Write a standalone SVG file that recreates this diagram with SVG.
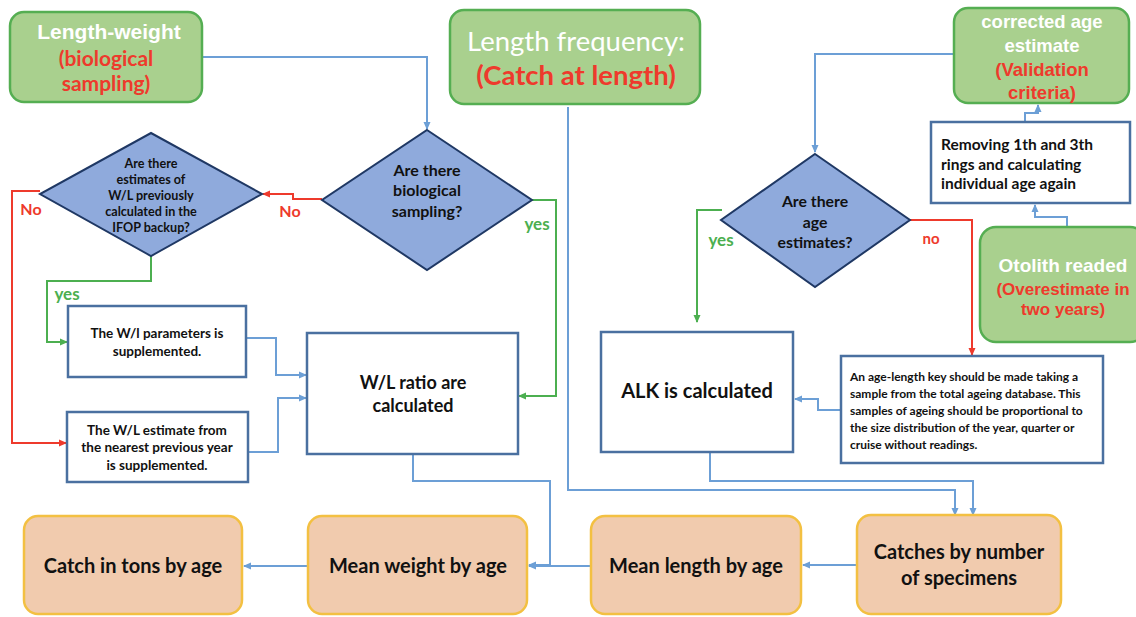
<svg xmlns="http://www.w3.org/2000/svg" width="1136" height="617" viewBox="0 0 1136 617">
<style>
.green{fill:#A9D08E;stroke:#55AE52;stroke-width:2.5}
.peach{fill:#F1CBAE;stroke:#F3C042;stroke-width:2.5}
.box{fill:#FFFFFF;stroke:#4A70A0;stroke-width:2.5}
.dia{fill:#8FAADC;stroke:#1F3864;stroke-width:2}
.a{font-family:"Liberation Sans",Arial,sans-serif;font-weight:bold}
.c{font-family:Lato,"Open Sans",sans-serif;font-weight:bold}
.w{fill:#FFFFFF}
.r{fill:#EE3A2C}
.k{fill:#111111}
.g{fill:#4CAF50}
.bl{fill:none;stroke:#6C9FD6;stroke-width:2}
.gl{fill:none;stroke:#4CAF50;stroke-width:2}
.rl{fill:none;stroke:#EE3A2C;stroke-width:2}
</style>
<defs>
<marker id="ab" markerWidth="8" markerHeight="8" refX="7" refY="4" orient="auto" markerUnits="userSpaceOnUse"><path d="M0,0.5 L8,4 L0,7.5 Z" fill="#6C9FD6"/></marker>
<marker id="ag" markerWidth="8" markerHeight="8" refX="7" refY="4" orient="auto" markerUnits="userSpaceOnUse"><path d="M0,0.5 L8,4 L0,7.5 Z" fill="#4CAF50"/></marker>
<marker id="ar" markerWidth="8" markerHeight="8" refX="7" refY="4" orient="auto" markerUnits="userSpaceOnUse"><path d="M0,0.5 L8,4 L0,7.5 Z" fill="#EE3A2C"/></marker>
</defs>
<rect width="1136" height="617" fill="#FFFFFF"/>

<g id="connectors">
<path class="bl" d="M202,57 H427 V129" marker-end="url(#ab)"/>
<path class="rl" d="M322,199 H293 V194 H263" marker-end="url(#ar)"/>
<path class="gl" d="M532,200 H556 V396 H519" marker-end="url(#ag)"/>
<path class="rl" d="M40,191 H12 V443 H66" marker-end="url(#ar)"/>
<path class="gl" d="M151,256 V281 H47 V342 H67" marker-end="url(#ag)"/>
<path class="bl" d="M246,338 H276 V375 H306" marker-end="url(#ab)"/>
<path class="bl" d="M248,452 H278 V398 H306" marker-end="url(#ab)"/>
<path class="bl" d="M413,454 V481 H550 V565 H529" marker-end="url(#ab)"/>
<path class="bl" d="M568,107 V490 H955 V515" marker-end="url(#ab)"/>
<path class="bl" d="M710,452 V481 H973 V515" marker-end="url(#ab)"/>
<path class="bl" d="M840,410 H818 V399 H795" marker-end="url(#ab)"/>
<path class="gl" d="M722,210 H697 V322" marker-end="url(#ag)"/>
<path class="rl" d="M910,220 H972 V355" marker-end="url(#ar)"/>
<path class="bl" d="M953,54 H815 V152" marker-end="url(#ab)"/>
<path class="bl" d="M1025,122 V113 H1038 V105" marker-end="url(#ab)"/>
<path class="bl" d="M1067,227 V217 H1035 V205" marker-end="url(#ab)"/>
<path class="bl" d="M591,566 H529" marker-end="url(#ab)"/>
<path class="bl" d="M857,565 H803" marker-end="url(#ab)"/>
<path class="bl" d="M308,566 H244" marker-end="url(#ab)"/>
<text class="c r" x="290" y="217" font-size="16" text-anchor="middle">No</text>
<text class="c g" x="537" y="230" font-size="17" text-anchor="middle">yes</text>
<text class="c r" x="31" y="215" font-size="16" text-anchor="middle">No</text>
<text class="c g" x="67" y="300" font-size="17" text-anchor="middle">yes</text>
<text class="c g" x="721" y="246" font-size="17" text-anchor="middle">yes</text>
<text class="c r" x="931" y="244" font-size="15" text-anchor="middle">no</text>
</g>

<g id="length-weight">
<rect class="green" x="10" y="12" width="192" height="90" rx="14"/>
<text class="a w" x="109" y="39" font-size="21" text-anchor="middle">Length-weight</text>
<text class="c r" x="106" y="66" font-size="21" text-anchor="middle">(biological</text>
<text class="c r" x="106" y="91" font-size="21" text-anchor="middle">sampling)</text>
</g>

<g id="length-frequency">
<rect class="green" x="450" y="10" width="250" height="94" rx="14"/>
<text x="576" y="51" font-size="27.5" text-anchor="middle" font-family="Lato,'Open Sans',sans-serif" fill="#FFFFFF">Length frequency:</text>
<text class="c r" x="576" y="85" font-size="27.5" text-anchor="middle">(Catch at length)</text>
</g>

<g id="corrected-age">
<rect class="green" x="954" y="8" width="175" height="95" rx="14"/>
<text class="a w" x="1042" y="28" font-size="18.5" text-anchor="middle">corrected age</text>
<text class="a w" x="1042" y="52" font-size="18.5" text-anchor="middle">estimate</text>
<text class="a r" x="1042" y="76" font-size="18.5" text-anchor="middle">(Validation</text>
<text class="a r" x="1042" y="99" font-size="18.5" text-anchor="middle">criteria)</text>
</g>

<g id="biological-decision">
<polygon class="dia" points="427,130 532,200 427,270 322,200"/>
<text class="c k" x="427" y="176" font-size="16" text-anchor="middle">Are there</text>
<text class="c k" x="427" y="196" font-size="16" text-anchor="middle">biological</text>
<text class="c k" x="427" y="217" font-size="16" text-anchor="middle">sampling?</text>
</g>

<g id="ifop-decision">
<polygon class="dia" points="151,133 262,194 151,256 40,194"/>
<text class="c k" x="151" y="168" font-size="12.6" text-anchor="middle">Are there</text>
<text class="c k" x="151" y="184" font-size="12.6" text-anchor="middle">estimates of</text>
<text class="c k" x="151" y="200" font-size="12.6" text-anchor="middle">W/L previously</text>
<text class="c k" x="151" y="216" font-size="12.6" text-anchor="middle">calculated in the</text>
<text class="c k" x="151" y="232" font-size="12.6" text-anchor="middle">IFOP backup?</text>
</g>

<g id="wl-parameters">
<rect class="box" x="68" y="306" width="178" height="71"/>
<text class="c k" x="157" y="338" font-size="13.5" text-anchor="middle">The W/l parameters is</text>
<text class="c k" x="157" y="356" font-size="13.5" text-anchor="middle">supplemented.</text>
</g>

<g id="wl-estimate">
<rect class="box" x="67" y="412" width="181" height="70"/>
<text class="c k" x="157" y="435" font-size="13.5" text-anchor="middle">The W/L estimate from</text>
<text class="c k" x="157" y="452" font-size="13.5" text-anchor="middle">the nearest previous year</text>
<text class="c k" x="157" y="470" font-size="13.5" text-anchor="middle">is supplemented.</text>
</g>

<g id="wl-ratio">
<rect class="box" x="307" y="333" width="211" height="121"/>
<text class="c k" x="413" y="389" font-size="18" text-anchor="middle">W/L ratio are</text>
<text class="c k" x="413" y="412" font-size="18" text-anchor="middle">calculated</text>
</g>

<g id="age-decision">
<polygon class="dia" points="815,154 910,220 815,287 721,220"/>
<text class="c k" x="815" y="207" font-size="15.8" text-anchor="middle">Are there</text>
<text class="c k" x="815" y="228" font-size="15.8" text-anchor="middle">age</text>
<text class="c k" x="815" y="248" font-size="15.8" text-anchor="middle">estimates?</text>
</g>

<g id="removing-rings">
<rect class="box" x="931" y="122" width="199" height="81"/>
<text class="c k" x="941" y="150" font-size="15.5">Removing 1th and 3th</text>
<text class="c k" x="941" y="170" font-size="15.5">rings and calculating</text>
<text class="c k" x="941" y="189" font-size="15.5">individual age again</text>
</g>

<g id="otolith">
<rect class="green" x="980" y="227" width="166" height="115" rx="16"/>
<text class="a w" x="1063" y="272" font-size="19" text-anchor="middle">Otolith readed</text>
<text class="a r" x="1063" y="295" font-size="17" text-anchor="middle">(Overestimate in</text>
<text class="a r" x="1063" y="315" font-size="17" text-anchor="middle">two years)</text>
</g>

<g id="alk">
<rect class="box" x="601" y="332" width="192" height="120"/>
<text class="c k" x="697" y="398" font-size="20" text-anchor="middle">ALK is calculated</text>
</g>

<g id="age-length-key">
<rect class="box" x="841" y="356" width="262" height="107"/>
<text class="c k" x="850" y="381" font-size="12">An age-length key should be made taking a</text>
<text class="c k" x="850" y="398" font-size="12">sample from the total ageing database. This</text>
<text class="c k" x="850" y="415" font-size="12">samples of ageing should be proportional to</text>
<text class="c k" x="850" y="432" font-size="12">the size distribution of the year, quarter or</text>
<text class="c k" x="850" y="449" font-size="12">cruise without readings.</text>
</g>

<g id="catch-tons">
<rect class="peach" x="24" y="516" width="218" height="98" rx="14"/>
<text class="c k" x="133" y="573" font-size="20" text-anchor="middle">Catch in tons by age</text>
</g>

<g id="mean-weight">
<rect class="peach" x="308" y="516" width="219" height="98" rx="14"/>
<text class="c k" x="418" y="573" font-size="20" text-anchor="middle">Mean weight by age</text>
</g>

<g id="mean-length">
<rect class="peach" x="591" y="516" width="210" height="98" rx="14"/>
<text class="c k" x="696" y="573" font-size="20" text-anchor="middle">Mean length by age</text>
</g>

<g id="catches-number">
<rect class="peach" x="857" y="515" width="204" height="99" rx="14"/>
<text class="c k" x="959" y="559" font-size="20" text-anchor="middle">Catches by number</text>
<text class="c k" x="959" y="585" font-size="20" text-anchor="middle">of specimens</text>
</g>
</svg>
